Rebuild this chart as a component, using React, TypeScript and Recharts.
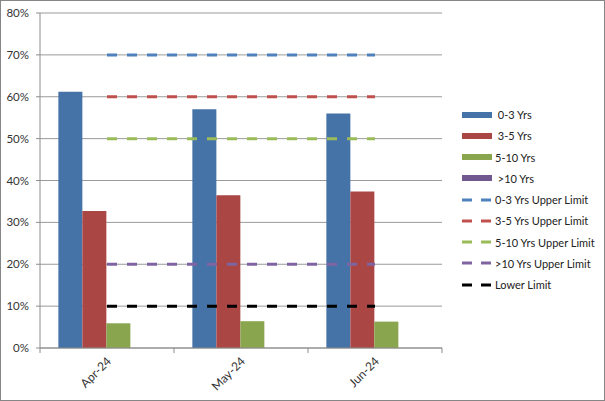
import {
  Bar,
  CartesianGrid,
  ComposedChart,
  Line,
  XAxis,
  YAxis,
} from 'recharts';

const months = ['Apr-24', 'May-24', 'Jun-24'];
const yrs0to3 = [61.2, 57.0, 56.0];
const yrs3to5 = [32.7, 36.5, 37.4];
const yrs5to10 = [5.9, 6.4, 6.3];
const yrs10plus = [null, null, null];
const upper0to3 = [70, 70, 70];
const upper3to5 = [60, 60, 60];
const upper5to10 = [50, 50, 50];
const upper10plus = [20, 20, 20];
const lowerLimit = [10, 10, 10];
const yTicks = [0, 10, 20, 30, 40, 50, 60, 70, 80];

const barSeries = [
  { key: 'b03', name: ' 0-3 Yrs', color: '#4572A7', values: yrs0to3 },
  { key: 'b35', name: ' 3-5 Yrs', color: '#AA4643', values: yrs3to5 },
  { key: 'b510', name: '5-10 Yrs', color: '#89A54E', values: yrs5to10 },
  { key: 'b10', name: ' >10 Yrs', color: '#71588F', values: yrs10plus },
];

const lineSeries = [
  { key: 'u03', name: '0-3 Yrs Upper Limit', color: '#4F81BD', values: upper0to3 },
  { key: 'u35', name: '3-5 Yrs Upper Limit', color: '#C0504D', values: upper3to5 },
  { key: 'u510', name: '5-10 Yrs Upper Limit', color: '#9BBB59', values: upper5to10 },
  { key: 'u10', name: '>10 Yrs Upper Limit', color: '#8064A2', values: upper10plus },
  { key: 'low', name: 'Lower Limit', color: '#000000', values: lowerLimit },
];

const data = months.map((m, i) => {
  const row: Record<string, string | number | null> = { month: m };
  barSeries.forEach((s) => (row[s.key] = s.values[i]));
  lineSeries.forEach((s) => (row[s.key] = s.values[i]));
  return row;
});

const FONT = 'Lato, "Open Sans", sans-serif';
const AXIS_GRAY = '#8c8c8c';

function MonthTick(props: any) {
  const { x, y, payload, index } = props;
  const half = payload?.offset ?? 0;
  return (
    <g>
      <line x1={x - half} y1={y} x2={x - half} y2={y + 5} stroke={AXIS_GRAY} />
      {index === months.length - 1 && (
        <line x1={x + half} y1={y} x2={x + half} y2={y + 5} stroke={AXIS_GRAY} />
      )}
      <text
        x={x + 5}
        y={y + 14}
        transform={`rotate(-45, ${x + 5}, ${y + 14})`}
        textAnchor='end'
        fontSize={12}
        fontFamily={FONT}
        fill='#333'
      >
        {payload.value}
      </text>
    </g>
  );
}

function LegendBox() {
  return (
    <div
      style={{
        position: 'absolute',
        left: 462,
        top: 104,
        fontFamily: FONT,
        fontSize: 11,
        color: '#222',
      }}
    >
      {barSeries.map((s) => (
        <div key={s.key} style={{ display: 'flex', alignItems: 'center', height: 21.25 }}>
          <div style={{ width: 30, height: 6, background: s.color, marginRight: 3 }} />
          <span style={{ whiteSpace: 'pre' }}>{s.name}</span>
        </div>
      ))}
      {lineSeries.map((s) => (
        <div key={s.key} style={{ display: 'flex', alignItems: 'center', height: 21.25 }}>
          <svg width={30} height={4} style={{ marginRight: 3 }}>
            <line x1={0} y1={2} x2={30} y2={2} stroke={s.color} strokeWidth={3} strokeDasharray='10 9' />
          </svg>
          <span style={{ whiteSpace: 'pre' }}>{s.name}</span>
        </div>
      ))}
    </div>
  );
}

export default function App() {
  return (
    <div
      style={{
        position: 'absolute',
        left: 0,
        top: 0,
        width: 605,
        height: 401,
        background: '#fff',
      }}
    >
      <ComposedChart
        width={605}
        height={401}
        data={data}
        margin={{ top: 13, right: 163, bottom: 0, left: 0 }}
        barCategoryGap='13.7%'
        barGap={0}
      >
        <CartesianGrid vertical={false} stroke='#9a9a9a' />
        <XAxis
          dataKey='month'
          height={53}
          stroke={AXIS_GRAY}
          tickLine={false}
          tickSize={0}
          tickMargin={0}
          interval={0}
          tick={<MonthTick />}
        />
        <YAxis
          width={40}
          domain={[0, 80]}
          ticks={yTicks}
          tickFormatter={(v) => `${v}%`}
          stroke={AXIS_GRAY}
          tickSize={4}
          tickMargin={7}
          tick={{ fontSize: 11.5, fill: '#333', fontFamily: FONT }}
        />
        {barSeries.map((s) => (
          <Bar
            key={s.key}
            dataKey={s.key}
            name={s.name}
            fill={s.color}
            isAnimationActive={false}
          />
        ))}
        {lineSeries.map((s) => (
          <Line
            key={s.key}
            dataKey={s.key}
            name={s.name}
            stroke={s.color}
            strokeWidth={3}
            strokeDasharray='10 10'
            dot={false}
            activeDot={false}
            isAnimationActive={false}
          />
        ))}
      </ComposedChart>
      <LegendBox />
      <div
        style={{
          position: 'absolute',
          left: 0,
          top: 0,
          width: 605,
          height: 401,
          boxSizing: 'border-box',
          border: '1px solid #868686',
          pointerEvents: 'none',
        }}
      />
    </div>
  );
}
